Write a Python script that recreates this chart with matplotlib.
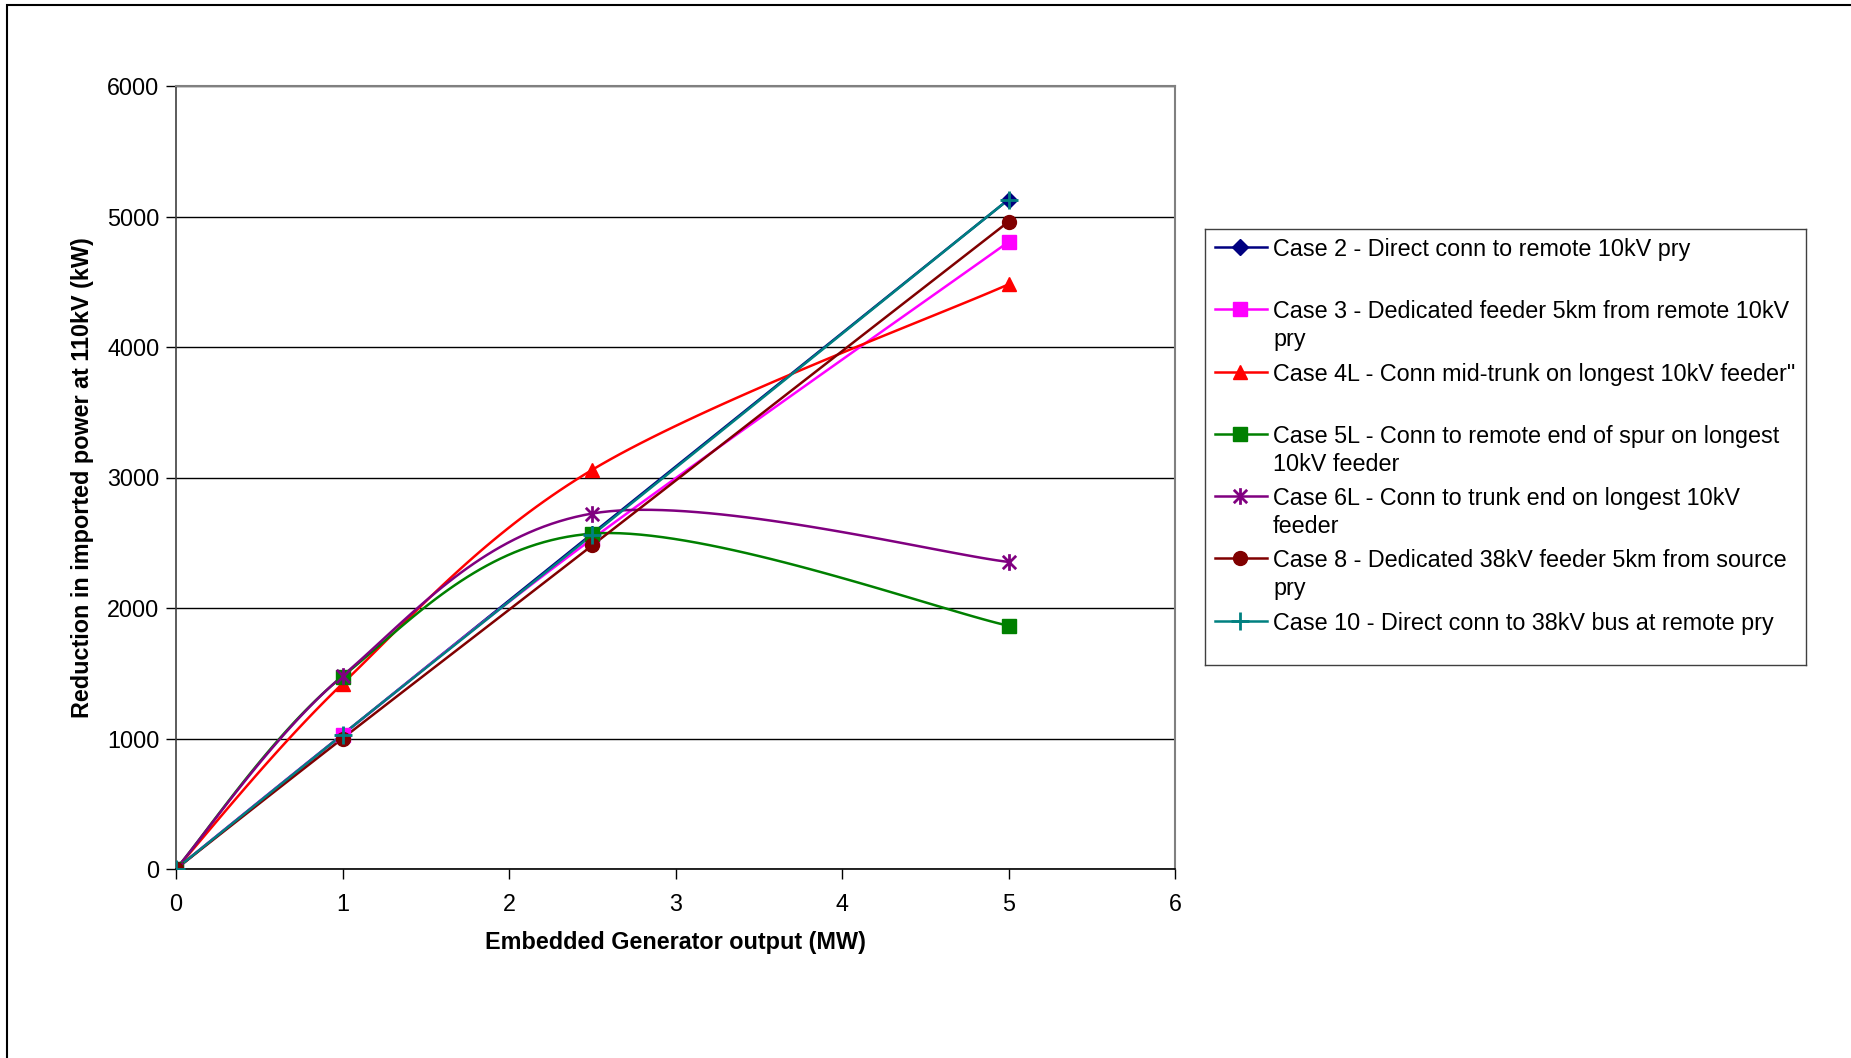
import numpy as np
import matplotlib
matplotlib.use('Agg')
import matplotlib.pyplot as plt
from matplotlib.lines import Line2D
from matplotlib.patches import Rectangle
from matplotlib.path import Path

plt.rcParams['font.family'] = ['Liberation Sans', 'DejaVu Sans']

# %% Data

gen_output = [0, 1, 2.5, 5]

case_2 = [0, 1030, 2570, 5130]
case_3 = [0, 1030, 2530, 4805]
case_4l = [0, 1420, 3059, 4480]
case_5l = [0, 1475, 2570, 1864]
case_6l = [0, 1480, 2724, 2353]
case_8 = [0, 1000, 2480, 4960]
case_10 = [0, 1030, 2560, 5130]

labels = ["Case 2 - Direct conn to remote 10kV pry",
          "Case 3 - Dedicated feeder 5km from remote 10kV\npry",
          "Case 4L - Conn mid-trunk on longest 10kV feeder\"",
          "Case 5L - Conn to remote end of spur on longest\n10kV feeder",
          "Case 6L - Conn to trunk end on longest 10kV\nfeeder",
          "Case 8 - Dedicated 38kV feeder 5km from source\npry",
          "Case 10 - Direct conn to 38kV bus at remote pry"]

# Excel style asterisk: X with a vertical bar
asterisk = Path([(0, -1), (0, 1), (-0.8, -0.8), (0.8, 0.8), (-0.8, 0.8), (0.8, -0.8)],
                [Path.MOVETO, Path.LINETO, Path.MOVETO, Path.LINETO, Path.MOVETO, Path.LINETO])

series = [case_2, case_3, case_4l, case_5l, case_6l, case_8, case_10]
colours = ['#000080', '#FF00FF', '#FF0000', '#008000', '#800080', '#800000', '#008080']
markers = ['D', 's', '^', 's', asterisk, 'o', '+']
msizes = [8, 10, 10, 10, 12, 10, 13]
line_markers = ['+', asterisk]


# %% Excel-style smoothed line (Catmull-Rom bezier through points)

def smooth(xs, ys, n=40):
    p = np.column_stack([xs, ys]).astype(float)
    out = [p[0]]
    for i in range(len(p) - 1):
        p0 = p[i - 1] if i > 0 else p[i]
        p3 = p[i + 2] if i + 2 < len(p) else p[i + 1]
        c1 = p[i] + (p[i + 1] - p0) / 6
        c2 = p[i + 1] - (p3 - p[i]) / 6
        t = np.linspace(0, 1, n)[1:, None]
        seg = ((1 - t) ** 3) * p[i] + 3 * ((1 - t) ** 2) * t * c1 + 3 * (1 - t) * t ** 2 * c2 + t ** 3 * p[i + 1]
        out.extend(seg)
    out = np.array(out)
    return out[:, 0], out[:, 1]


# %% Figure

W, H = 1851, 1058
fs = 16.8
fig = plt.figure(figsize=(W / 100, H / 100), dpi=100)
fig.patch.set_facecolor('white')

# outer chart frame
fig.patches.append(Rectangle((7 / W, -0.05), 1.1, 1 - 5 / H + 0.05, transform=fig.transFigure,
                             fill=False, edgecolor='black', linewidth=1.5))

ax = fig.add_axes([176 / W, 1 - 869 / H, 999 / W, 783 / H])

for ys, c, m, ms in zip(series, colours, markers, msizes):
    sx, sy = smooth(gen_output, ys)
    ax.plot(sx, sy, color=c, lw=1.8, zorder=3)
    mew = 2.0 if any(m is lm for lm in line_markers) else 1
    ax.plot(gen_output, ys, linestyle='none', marker=m, markersize=ms, color=c,
            markeredgecolor=c, markeredgewidth=mew, zorder=4)

ax.set_xlim(0, 6)
ax.set_ylim(0, 6000)
ax.set_xticks(range(0, 7))
ax.set_yticks(range(0, 7000, 1000))
ax.yaxis.grid(True, color='#000000', linewidth=1)
ax.set_axisbelow(True)

for side in ['top', 'right']:
    ax.spines[side].set_color('#808080')
    ax.spines[side].set_linewidth(1.5)
ax.spines['left'].set_color('#404040')
ax.spines['bottom'].set_color('#000000')
ax.spines['left'].set_linewidth(1.2)
ax.spines['bottom'].set_linewidth(1.2)

ax.tick_params(axis='both', direction='out', length=7, width=1, labelsize=fs)
ax.tick_params(axis='y', pad=5)
ax.tick_params(axis='x', pad=10)

ax.set_xlabel("Embedded Generator output (MW)", fontsize=fs, fontweight='bold', labelpad=11)
ax.set_ylabel("Reduction in imported power at 110kV (kW)", fontsize=fs, fontweight='bold', labelpad=9)

# %% Legend (drawn by hand to match Excel layout)

lax = fig.add_axes([1205 / W, 1 - 665 / H, 601 / W, 436 / H])
lax.set_xlim(1205, 1806)
lax.set_ylim(665, 229)
lax.set_xticks([])
lax.set_yticks([])
for s in lax.spines.values():
    s.set_color('#404040')
    s.set_linewidth(1)

entry_y = [247, 309, 372, 434, 496, 558, 621]
for y, lab, c, m, ms in zip(entry_y, labels, colours, markers, msizes):
    mew = 2.0 if any(m is lm for lm in line_markers) else 1
    lax.add_line(Line2D([1215, 1267], [y, y], color=c, lw=1.8))
    lax.add_line(Line2D([1240], [y], marker=m, markersize=ms, color=c,
                        markeredgecolor=c, markeredgewidth=mew))
    lax.text(1273, y - 9, lab, fontsize=fs, va='top', ha='left', linespacing=1.28)

fig.savefig('out.png', dpi=100)
